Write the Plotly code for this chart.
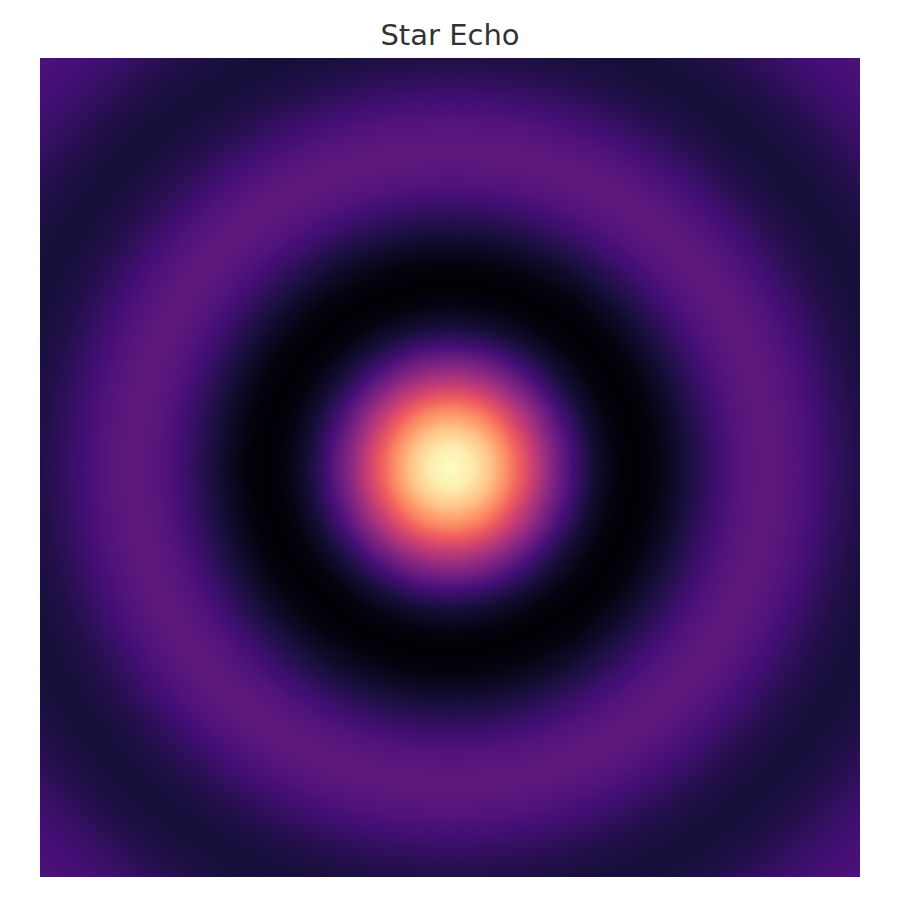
import numpy as np
import plotly.graph_objects as go

# Radial intensity profile (distance from centre in data units -> value)
radius_samples = [0.0, 0.5, 1.0, 1.5, 2.0, 2.5, 3.0, 3.5, 4.0, 4.5, 5.0, 5.5, 6.0, 6.5, 7.0,
                  7.5, 8.0, 8.5, 9.0, 9.5, 10.0, 10.5, 11.0, 11.5, 12.0, 12.5, 13.0, 13.5,
                  14.0, 14.5]
intensity_samples = [1.000, 0.959, 0.841, 0.665, 0.455, 0.239, 0.047, -0.100, -0.189, -0.217,
                     -0.192, -0.128, -0.047, 0.033, 0.094, 0.125, 0.124, 0.094, 0.046, -0.008,
                     -0.054, -0.084, -0.091, -0.076, -0.045, -0.005, 0.032, 0.060, 0.071, 0.064]

# Grid extent of the field
x_values = np.linspace(-10, 10, 401)
y_values = np.linspace(-10, 10, 401)

xx, yy = np.meshgrid(x_values, y_values)
rr = np.sqrt(xx ** 2 + yy ** 2)
z = np.interp(rr, radius_samples, intensity_samples)

fig = go.Figure(
    go.Heatmap(
        x=x_values,
        y=y_values,
        z=z,
        colorscale="Magma",
        showscale=False,
        zsmooth="best",
        hoverinfo="skip",
    )
)

fig.update_layout(
    width=900,
    height=900,
    margin=dict(l=32, r=48, t=50, b=31),
    paper_bgcolor="white",
    plot_bgcolor="white",
    title=dict(
        text="Star Echo",
        xref="paper",
        x=0.5,
        xanchor="center",
        y=0.97,
        yanchor="middle",
        font=dict(family="DejaVu Sans", size=29, color="#333333"),
    ),
    xaxis=dict(visible=False, showgrid=False, zeroline=False),
    yaxis=dict(visible=False, showgrid=False, zeroline=False),
)

fig.write_html("out.html")
